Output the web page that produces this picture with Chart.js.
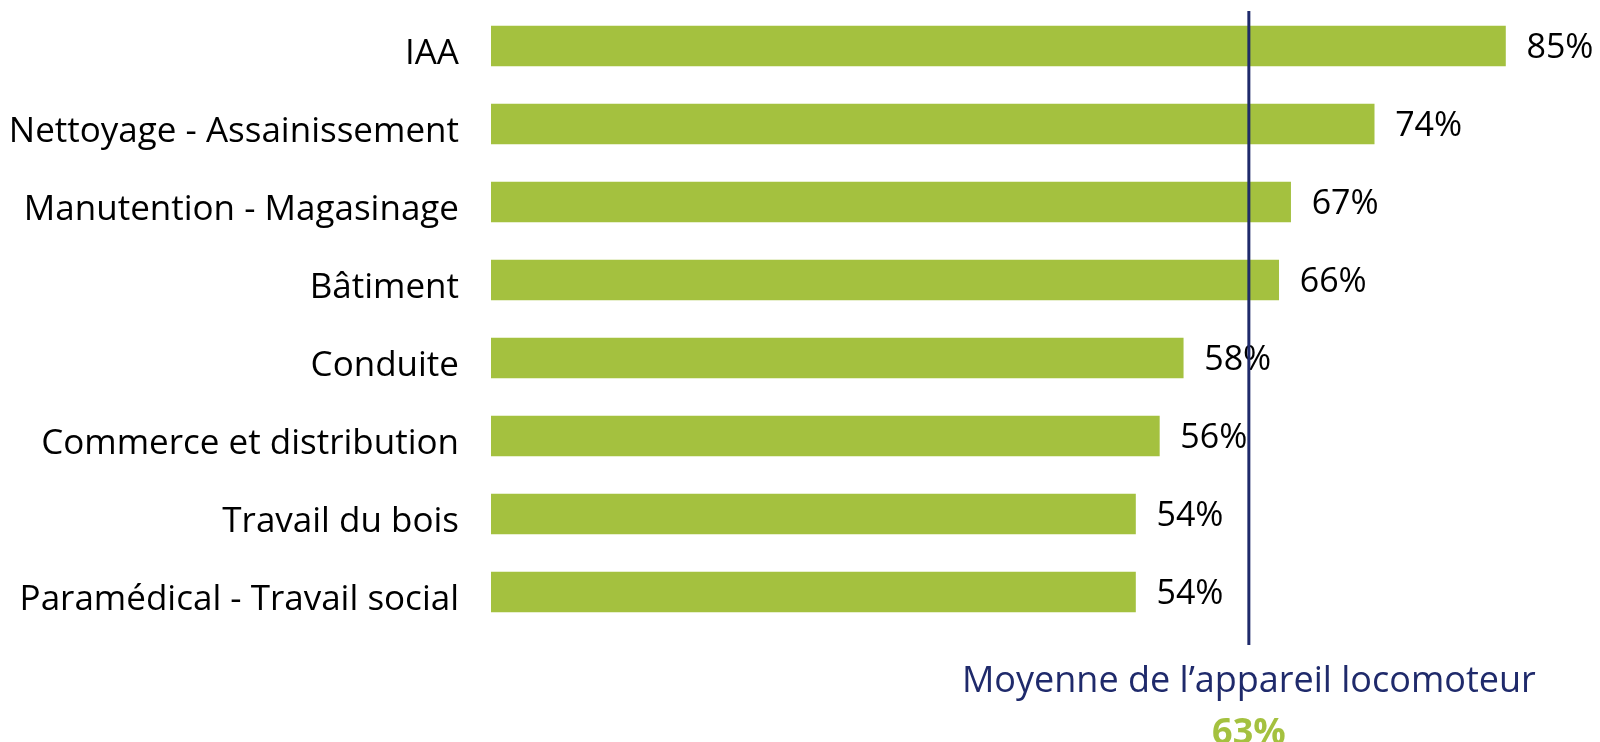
<!DOCTYPE html>
<html>
<head>
<meta charset="utf-8">
<script src="https://cdn.jsdelivr.net/npm/chart.js@4"></script>
<style>
  html, body { margin: 0; padding: 0; background: #fff; }
  #wrap { width: 1600px; height: 742px; }
</style>
</head>
<body>
<div id="wrap"><canvas id="myChart" width="1600" height="742"></canvas></div>
<script>
const categories = [
    'IAA',
    'Nettoyage - Assainissement',
    'Manutention - Magasinage',
    'Bâtiment',
    'Conduite',
    'Commerce et distribution',
    'Travail du bois',
    'Paramédical - Travail social'
];
const values = [85, 74, 67, 66, 58, 56, 54, 54];
const averageLabel = 'Moyenne de l\u2019appareil locomoteur';
const averageValue = 63;
const averageLinePos = 63.5;

const FONT = '"Open Sans", sans-serif';
const green = '#a4c13f';
const navy = '#1f2a6b';

// value labels at the end of every bar
const valueLabels = {
    id: 'valueLabels',
    afterDatasetsDraw(chart) {
        const ctx = chart.ctx;
        const meta = chart.getDatasetMeta(0);
        ctx.save();
        ctx.font = '34px ' + FONT;
        ctx.fillStyle = '#000';
        ctx.textAlign = 'left';
        ctx.textBaseline = 'middle';
        meta.data.forEach((bar, i) => {
            ctx.fillText(values[i] + '%', bar.x + 21, bar.y + 2);
        });
        ctx.restore();
    }
};

// vertical average line + caption below
const averageLine = {
    id: 'averageLine',
    afterDraw(chart) {
        const ctx = chart.ctx;
        const area = chart.chartArea;
        const x = chart.scales.x.getPixelForValue(averageLinePos);
        ctx.save();
        ctx.strokeStyle = navy;
        ctx.lineWidth = 3;
        ctx.beginPath();
        ctx.moveTo(x, area.top + 4);
        ctx.lineTo(x, area.bottom + 14);
        ctx.stroke();

        ctx.textAlign = 'center';
        ctx.textBaseline = 'alphabetic';
        ctx.fillStyle = navy;
        ctx.font = '36px ' + FONT;
        ctx.fillText(averageLabel, x, area.bottom + 61);
        ctx.fillStyle = green;
        ctx.font = 'bold 36px ' + FONT;
        ctx.fillText(averageValue + '%', x, area.bottom + 113);
        ctx.restore();
    }
};

const ctx = document.getElementById('myChart').getContext('2d');
new Chart(ctx, {
    type: 'bar',
    data: {
        labels: categories,
        datasets: [{
            data: values,
            backgroundColor: green,
            borderWidth: 0,
            barThickness: 40
        }]
    },
    options: {
        indexAxis: 'y',
        responsive: false,
        animation: false,
        layout: { padding: { top: 7, right: 11, bottom: 111, left: 0 } },
        plugins: {
            legend: { display: false },
            tooltip: { enabled: false }
        },
        scales: {
            x: {
                display: false,
                min: 0,
                max: 92
            },
            y: {
                grid: { display: false, drawTicks: false },
                border: { display: false },
                ticks: {
                    color: '#000',
                    padding: 32,
                    labelOffset: 8,
                    font: { family: FONT, size: 35 }
                },
                afterFit(scale) {
                    scale.width = 491;
                    scale.paddingTop = 0;
                    scale.paddingBottom = 0;
                }
            }
        }
    },
    plugins: [valueLabels, averageLine]
});
</script>
</body>
</html>
